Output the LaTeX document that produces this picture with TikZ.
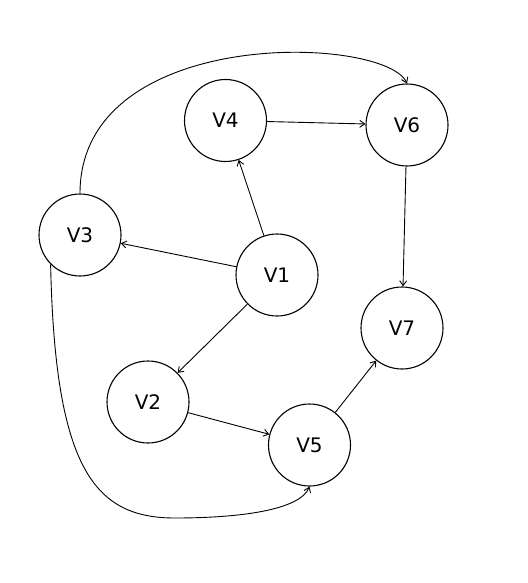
\documentclass[tikz,border=0pt]{standalone}
\usepackage{fontspec}
\setmainfont{DejaVu Sans}
\usepackage{tikz}
\usetikzlibrary{arrows.meta,positioning}

\begin{document}
\begin{tikzpicture}[x=1pt, y=-1pt, >={Straight Barb[length=5pt,width=7pt]}]
    \tikzset{
        vertex/.style={draw, circle, line width=1.1pt, minimum size=82pt, inner sep=0pt, font=\fontsize{20}{20}\selectfont},
        edge/.style={draw, ->, line width=0.9pt}
    }
    \useasboundingbox (0,0) rectangle (527,583);

    \node [vertex] (v4) at (225.5,120.5) {V4};
    \node [vertex] (v6) at (407,125) {V6};
    \node [vertex] (v3) at (80,235) {V3};
    \node [vertex] (v1) at (277,275) {V1};
    \node [vertex] (v7) at (402,328) {V7};
    \node [vertex] (v2) at (148,402) {V2};
    \node [vertex] (v5) at (309.5,445) {V5};
    \coordinate (low) at (175,518);

    \path [edge] (v4) -- (v6);
    \path [edge] (v1) -- (v4);
    \path [edge] (v1) -- (v3);
    \path [edge] (v1) -- (v2);
    \path [edge] (v2) -- (v5);
    \path [edge] (v5) -- (v7);
    \path [edge] (v6) -- (v7);

    % long bends round the outside
    \path [edge] (v3.north) .. controls (80,25) and (385,35) .. (v6.north);
    \path [edge] (v3.225) .. controls (55,470) and (95,518) .. (low)
        .. controls (240,518) and (300,510) .. (v5.south);
\end{tikzpicture}
\end{document}
